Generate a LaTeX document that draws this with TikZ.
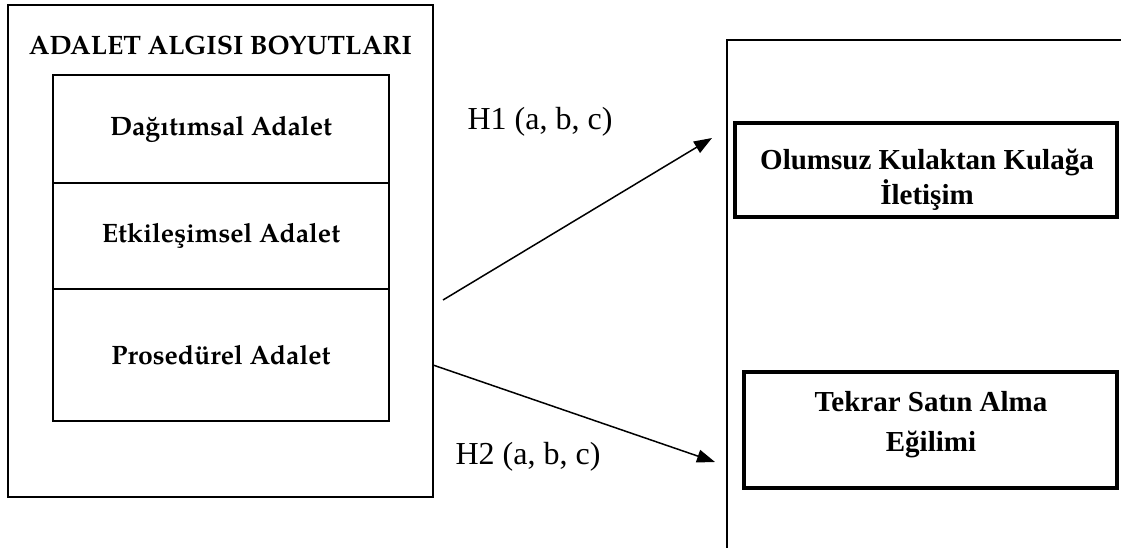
\documentclass[tikz,border=0pt]{standalone}
\usepackage{fontspec}
\setmainfont{TeX Gyre Pagella}
\newfontfamily\timesfont{Liberation Serif}
\usetikzlibrary{arrows.meta}
\begin{document}
\begin{tikzpicture}[x=1pt,y=-1pt,
  frame/.style={draw,line width=1.8pt,inner sep=0pt},
  dimbox/.style={frame,minimum width=336pt,font=\bfseries\fontsize{26.6}{32}\selectfont},
  outbox/.style={draw,line width=4pt,inner sep=0pt},
  outtext/.style={inner sep=0pt,align=center,font=\timesfont\bfseries\fontsize{29}{35}\selectfont},
  hlabel/.style={font=\timesfont\fontsize{32}{38}\selectfont,inner sep=0pt},
  conn/.style={line width=1.5pt,-{Triangle[length=18pt,width=13pt]}}]
\useasboundingbox (0,0) rectangle (1121,548);
% left frame
\node[frame,minimum width=425pt,minimum height=492pt] (outer) at (220.5,251) {};
\node[font=\bfseries\fontsize{26.6}{32}\selectfont,inner sep=0pt] (title) at (220.5,45) {ADALET ALGISI BOYUTLARI};
\node[dimbox,minimum height=108pt] (dag) at (221,129) {Dağıtımsal Adalet};
\node[dimbox,minimum height=106pt] (etk) at (221,236) {Etkileşimsel Adalet};
\node[dimbox,minimum height=132pt] (pro) at (221,355) {Prosedürel Adalet};
% right frame (cut off)
\coordinate (frbl) at (727,548);
\coordinate (frtl) at (727,40);
\coordinate (frtr) at (1121,40);
\draw[line width=1.8pt] (frbl) -- (frtl) -- (frtr);
\node[outbox,minimum width=382pt,minimum height=94pt] (olu) at (926,170) {};
\node[outtext] (olutext) at (927,179.5) {Olumsuz Kulaktan Kulağa\\İletişim};
\node[outbox,minimum width=373pt,minimum height=116pt] (tek) at (930.5,430) {};
\node[outtext,font=\timesfont\bfseries\fontsize{29}{40}\selectfont] (tektext) at (931,424.5) {Tekrar Satın Alma\\Eğilimi};
% arrows
\coordinate (a1s) at (443,300);
\coordinate (a1e) at (712,138);
\coordinate (a2s) at (433,365);
\coordinate (a2e) at (715,462);
\draw[conn] (a1s) -- (a1e);
\draw[conn] (a2s) -- (a2e);
\node[hlabel] (h1) at (540,122) {H1 (a, b, c)};
\node[hlabel] (h2) at (528,457) {H2 (a, b, c)};
\end{tikzpicture}
\end{document}
